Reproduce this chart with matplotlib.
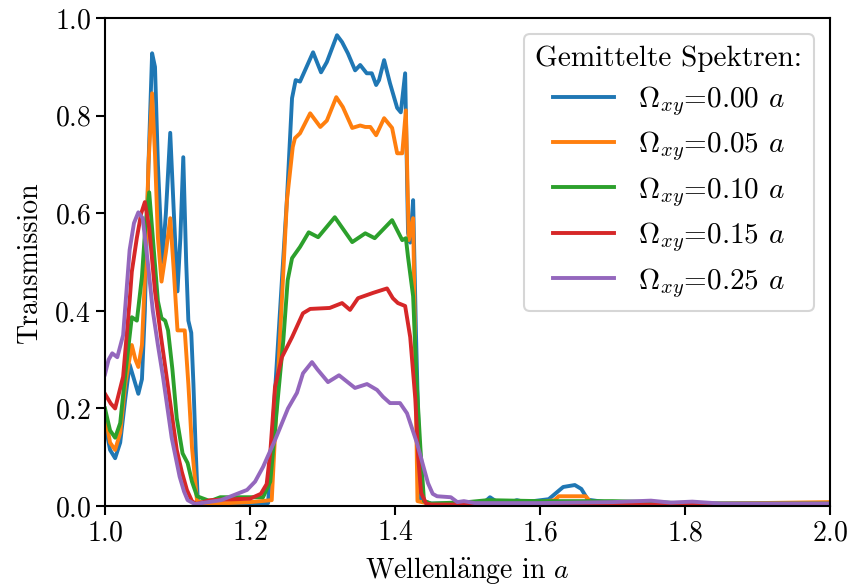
import matplotlib
matplotlib.use('Agg')
import matplotlib.pyplot as plt

plt.rcParams['font.family'] = ['cmr10', 'DejaVu Serif']
plt.rcParams['mathtext.fontset'] = 'cm'
plt.rcParams['axes.formatter.use_mathtext'] = True
plt.rcParams['font.size'] = 20

# Gemittelte Transmissionsspektren für verschiedene Ω_xy
x_000 = [1.0, 1.007, 1.014, 1.021, 1.028, 1.034, 1.040, 1.046, 1.051, 1.055, 1.060, 1.065,
         1.069, 1.073, 1.079, 1.084, 1.090, 1.095, 1.100, 1.104, 1.108, 1.112, 1.115, 1.119,
         1.122, 1.125, 1.128, 1.14, 1.20, 1.225, 1.251, 1.258, 1.263, 1.269, 1.287, 1.298,
         1.306, 1.320, 1.327, 1.335, 1.345, 1.352, 1.361, 1.368, 1.374, 1.378, 1.385, 1.393,
         1.403, 1.408, 1.414, 1.418, 1.421, 1.425, 1.429, 1.435, 1.45, 1.50, 1.525, 1.531,
         1.542, 1.555, 1.568, 1.58, 1.612, 1.632, 1.648, 1.657, 1.666, 1.70, 1.80, 1.90, 2.0]
y_000 = [0.17, 0.115, 0.098, 0.13, 0.22, 0.29, 0.26, 0.23, 0.26, 0.40, 0.70, 0.928,
         0.90, 0.70, 0.50, 0.60, 0.765, 0.60, 0.44, 0.55, 0.715, 0.50, 0.38, 0.355,
         0.25, 0.12, 0.01, 0.003, 0.003, 0.006, 0.63, 0.836, 0.873, 0.87, 0.93, 0.889,
         0.91, 0.965, 0.951, 0.928, 0.893, 0.904, 0.887, 0.887, 0.863, 0.873, 0.914, 0.867,
         0.816, 0.807, 0.887, 0.56, 0.54, 0.627, 0.35, 0.012, 0.005, 0.006, 0.01, 0.018,
         0.007, 0.005, 0.012, 0.008, 0.014, 0.039, 0.043, 0.035, 0.013, 0.006, 0.005, 0.005, 0.005]

x_005 = [1.0, 1.007, 1.014, 1.021, 1.028, 1.037, 1.042, 1.046, 1.051, 1.056, 1.060, 1.065,
         1.069, 1.073, 1.078, 1.084, 1.090, 1.095, 1.100, 1.110, 1.115, 1.120, 1.127, 1.14,
         1.20, 1.23, 1.251, 1.259, 1.262, 1.269, 1.283, 1.297, 1.306, 1.319, 1.328, 1.341,
         1.352, 1.359, 1.366, 1.374, 1.385, 1.396, 1.403, 1.410, 1.415, 1.419, 1.425, 1.431,
         1.45, 1.55, 1.60, 1.62, 1.626, 1.663, 1.67, 1.70, 1.80, 1.90, 2.0]
y_005 = [0.19, 0.13, 0.115, 0.15, 0.25, 0.33, 0.30, 0.285, 0.33, 0.50, 0.70, 0.846,
         0.72, 0.55, 0.46, 0.52, 0.59, 0.48, 0.36, 0.36, 0.25, 0.12, 0.01, 0.004,
         0.008, 0.012, 0.627, 0.736, 0.754, 0.764, 0.805, 0.777, 0.79, 0.838, 0.818, 0.775,
         0.78, 0.777, 0.777, 0.76, 0.795, 0.775, 0.723, 0.723, 0.811, 0.545, 0.59, 0.01,
         0.004, 0.004, 0.008, 0.012, 0.02, 0.02, 0.008, 0.005, 0.004, 0.006, 0.008]

x_010 = [1.0, 1.007, 1.014, 1.021, 1.028, 1.037, 1.044, 1.051, 1.056, 1.061, 1.066, 1.073,
         1.078, 1.083, 1.087, 1.093, 1.099, 1.107, 1.114, 1.120, 1.127, 1.145, 1.159, 1.218,
         1.228, 1.239, 1.246, 1.252, 1.258, 1.269, 1.281, 1.294, 1.317, 1.341, 1.359, 1.372,
         1.396, 1.410, 1.415, 1.418, 1.425, 1.430, 1.435, 1.44, 1.45, 1.50, 1.528, 1.60,
         1.70, 1.763, 1.80, 2.0]
y_010 = [0.20, 0.155, 0.14, 0.17, 0.27, 0.387, 0.38, 0.47, 0.58, 0.643, 0.55, 0.42,
         0.385, 0.38, 0.36, 0.28, 0.18, 0.108, 0.088, 0.05, 0.02, 0.01, 0.018, 0.018,
         0.05, 0.23, 0.34, 0.463, 0.508, 0.531, 0.561, 0.551, 0.592, 0.541, 0.559, 0.549,
         0.586, 0.545, 0.549, 0.51, 0.43, 0.25, 0.12, 0.01, 0.005, 0.008, 0.012, 0.01,
         0.01, 0.008, 0.005, 0.005]

x_015 = [1.0, 1.008, 1.014, 1.025, 1.034, 1.037, 1.044, 1.050, 1.055, 1.061, 1.069, 1.077,
         1.085, 1.092, 1.099, 1.106, 1.113, 1.120, 1.126, 1.145, 1.20, 1.215, 1.223, 1.228,
         1.2345, 1.244, 1.258, 1.273, 1.283, 1.310, 1.327, 1.338, 1.349, 1.370, 1.389, 1.397,
         1.404, 1.414, 1.421, 1.428, 1.432, 1.436, 1.443, 1.45, 1.60, 2.0]
y_015 = [0.23, 0.21, 0.20, 0.265, 0.42, 0.48, 0.55, 0.60, 0.623, 0.57, 0.44, 0.35,
         0.265, 0.19, 0.115, 0.07, 0.033, 0.01, 0.004, 0.012, 0.015, 0.025, 0.045, 0.11,
         0.244, 0.305, 0.346, 0.395, 0.404, 0.406, 0.416, 0.402, 0.426, 0.437, 0.446, 0.426,
         0.416, 0.41, 0.346, 0.22, 0.10, 0.027, 0.005, 0.003, 0.003, 0.003]

x_025 = [1.0, 1.005, 1.010, 1.017, 1.025, 1.034, 1.040, 1.046, 1.052, 1.059, 1.066, 1.073,
         1.080, 1.092, 1.103, 1.109, 1.114, 1.124, 1.16, 1.196, 1.207, 1.218, 1.2345, 1.2524,
         1.2648, 1.2731, 1.2855, 1.293, 1.3076, 1.3228, 1.3448, 1.3614, 1.3752, 1.3834, 1.3931,
         1.4069, 1.4166, 1.4303, 1.4455, 1.452, 1.458, 1.477, 1.486, 1.495, 1.51, 1.60, 1.70,
         1.753, 1.78, 1.81, 1.85, 2.0]
y_025 = [0.27, 0.30, 0.313, 0.305, 0.35, 0.525, 0.58, 0.602, 0.59, 0.50, 0.40, 0.33,
         0.265, 0.14, 0.06, 0.03, 0.012, 0.004, 0.012, 0.033, 0.05, 0.08, 0.135, 0.2,
         0.232, 0.272, 0.295, 0.28, 0.254, 0.268, 0.242, 0.25, 0.238, 0.224, 0.211,
         0.211, 0.19, 0.129, 0.047, 0.025, 0.02, 0.018, 0.008, 0.01, 0.006, 0.006, 0.008,
         0.011, 0.007, 0.009, 0.005, 0.005]

labels = [r'$\Omega_{xy}$=0.00 $a$', r'$\Omega_{xy}$=0.05 $a$', r'$\Omega_{xy}$=0.10 $a$',
          r'$\Omega_{xy}$=0.15 $a$', r'$\Omega_{xy}$=0.25 $a$']

fig = plt.figure(figsize=(8.5, 5.86), dpi=100)
ax = fig.add_axes([0.1235, 0.1365, 0.853, 0.8325])

series = [(x_000, y_000), (x_005, y_005), (x_010, y_010), (x_015, y_015), (x_025, y_025)]
for (xs, ys), lab in zip(series, labels):
    ax.plot(xs, ys, lw=2.8, label=lab)

ax.set_xlim(1.0, 2.0)
ax.set_ylim(0.0, 1.0)
ax.set_xticks([1.0, 1.2, 1.4, 1.6, 1.8, 2.0])
ax.set_yticks([0.0, 0.2, 0.4, 0.6, 0.8, 1.0])
ax.set_xlabel(r'Wellenl$\ddot{\mathrm{a}}$nge in $a$', labelpad=6)
ax.set_ylabel('Transmission', labelpad=8)
ax.tick_params(width=1.5, length=6.5)
for sp in ax.spines.values():
    sp.set_linewidth(1.5)

leg = ax.legend(title='Gemittelte Spektren:', loc='upper right', fontsize=21,
                title_fontsize=21, handlelength=2.1, labelspacing=0.4,
                borderaxespad=0.55)
leg.get_frame().set_linewidth(1.5)

fig.savefig('out.png', dpi=100)
